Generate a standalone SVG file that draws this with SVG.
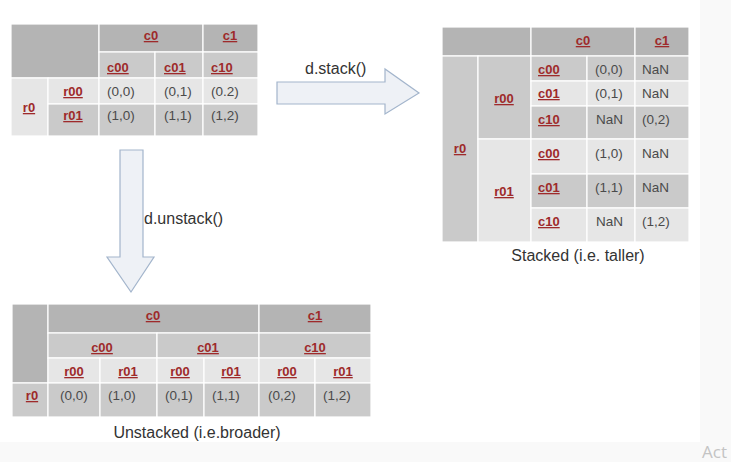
<svg xmlns="http://www.w3.org/2000/svg" width="731" height="462" viewBox="0 0 731 462">
<style>
.dk{fill:#b4b4b4;stroke:#fff;stroke-width:1.2}
.md{fill:#cacaca;stroke:#fff;stroke-width:1.2}
.lt{fill:#e6e6e6;stroke:#fff;stroke-width:1.2}
.lb{font-family:"Liberation Sans",Arial,sans-serif;font-size:13px;font-weight:bold;fill:#9e2a2b;text-decoration:underline}
.c{text-anchor:middle}
.v{font-family:"Liberation Sans",Arial,sans-serif;font-size:13.5px;fill:#4a4a4a}
.cap{font-family:"Liberation Sans",Arial,sans-serif;font-size:16px;fill:#333}
.arr{fill:#eef1f6;stroke:#a3b5cc;stroke-width:1.2}
</style>
<rect x="0" y="0" width="731" height="462" fill="#f9f9f9"/>
<rect x="0" y="0" width="700" height="442" fill="#ffffff"/>

<g id="table-original">
<rect class="dk" x="11" y="24" width="88" height="54"/>
<rect class="dk" x="99" y="24" width="104" height="28"/>
<rect class="dk" x="203" y="24" width="55" height="28"/>
<rect class="md" x="99" y="52" width="56" height="26"/>
<rect class="md" x="155" y="52" width="48" height="26"/>
<rect class="md" x="203" y="52" width="55" height="26"/>
<rect class="lt" x="11" y="78" width="37" height="58"/>
<rect class="lt" x="48" y="78" width="51" height="26"/>
<rect class="lt" x="99" y="78" width="56" height="26"/>
<rect class="lt" x="155" y="78" width="48" height="26"/>
<rect class="lt" x="203" y="78" width="55" height="26"/>
<rect class="md" x="48" y="104" width="51" height="32"/>
<rect class="md" x="99" y="104" width="56" height="32"/>
<rect class="md" x="155" y="104" width="48" height="32"/>
<rect class="md" x="203" y="104" width="55" height="32"/>
<text class="lb c" x="151" y="40">c0</text>
<text class="lb c" x="230" y="40">c1</text>
<text class="lb" x="107" y="72">c00</text>
<text class="lb" x="164" y="72">c01</text>
<text class="lb" x="211" y="72">c10</text>
<text class="lb c" x="29" y="112">r0</text>
<text class="lb c" x="73" y="96">r00</text>
<text class="lb c" x="73" y="120">r01</text>
<text class="v" x="107" y="96">(0,0)</text>
<text class="v" x="164" y="96">(0,1)</text>
<text class="v" x="211" y="96">(0.2)</text>
<text class="v" x="107" y="120">(1,0)</text>
<text class="v" x="164" y="120">(1,1)</text>
<text class="v" x="211" y="120">(1,2)</text>
</g>

<g id="table-stacked">
<rect class="dk" x="442" y="27" width="89" height="29"/>
<rect class="dk" x="531" y="27" width="104" height="29"/>
<rect class="dk" x="635" y="27" width="54" height="29"/>
<rect class="md" x="442" y="56" width="36" height="186"/>
<rect class="md" x="478" y="56" width="53" height="83"/>
<rect class="md" x="531" y="56" width="56" height="25"/>
<rect class="md" x="587" y="56" width="48" height="25"/>
<rect class="md" x="635" y="56" width="54" height="25"/>
<rect class="lt" x="531" y="81" width="56" height="25"/>
<rect class="lt" x="587" y="81" width="48" height="25"/>
<rect class="lt" x="635" y="81" width="54" height="25"/>
<rect class="md" x="531" y="106" width="56" height="33"/>
<rect class="md" x="587" y="106" width="48" height="33"/>
<rect class="md" x="635" y="106" width="54" height="33"/>
<rect class="lt" x="478" y="139" width="53" height="103"/>
<rect class="lt" x="531" y="139" width="56" height="35"/>
<rect class="lt" x="587" y="139" width="48" height="35"/>
<rect class="lt" x="635" y="139" width="54" height="35"/>
<rect class="md" x="531" y="174" width="56" height="34"/>
<rect class="md" x="587" y="174" width="48" height="34"/>
<rect class="md" x="635" y="174" width="54" height="34"/>
<rect class="lt" x="531" y="208" width="56" height="34"/>
<rect class="lt" x="587" y="208" width="48" height="34"/>
<rect class="lt" x="635" y="208" width="54" height="34"/>
<text class="lb c" x="583" y="45">c0</text>
<text class="lb c" x="662" y="45">c1</text>
<text class="lb c" x="460" y="153">r0</text>
<text class="lb c" x="504" y="103">r00</text>
<text class="lb c" x="504" y="196">r01</text>
<text class="lb" x="538" y="74">c00</text>
<text class="lb" x="538" y="98">c01</text>
<text class="lb" x="538" y="124">c10</text>
<text class="lb" x="538" y="158">c00</text>
<text class="lb" x="538" y="192">c01</text>
<text class="lb" x="538" y="226">c10</text>
<text class="v" x="595" y="74">(0,0)</text>
<text class="v" x="595" y="98">(0,1)</text>
<text class="v" x="596" y="124">NaN</text>
<text class="v" x="595" y="158">(1,0)</text>
<text class="v" x="595" y="192">(1,1)</text>
<text class="v" x="596" y="226">NaN</text>
<text class="v" x="642" y="74">NaN</text>
<text class="v" x="642" y="98">NaN</text>
<text class="v" x="642" y="124">(0,2)</text>
<text class="v" x="642" y="158">NaN</text>
<text class="v" x="642" y="192">NaN</text>
<text class="v" x="642" y="226">(1,2)</text>
<text class="cap c" x="578" y="261">Stacked (i.e. taller)</text>
</g>

<g id="table-unstacked">
<rect class="dk" x="12" y="304" width="36" height="79"/>
<rect class="dk" x="48" y="304" width="211" height="29"/>
<rect class="dk" x="259" y="304" width="112" height="29"/>
<rect class="md" x="48" y="333" width="109" height="25"/>
<rect class="md" x="157" y="333" width="102" height="25"/>
<rect class="md" x="259" y="333" width="112" height="25"/>
<rect class="lt" x="48" y="358" width="52" height="25"/>
<rect class="lt" x="100" y="358" width="57" height="25"/>
<rect class="lt" x="157" y="358" width="47" height="25"/>
<rect class="lt" x="204" y="358" width="55" height="25"/>
<rect class="lt" x="259" y="358" width="56" height="25"/>
<rect class="lt" x="315" y="358" width="56" height="25"/>
<rect class="md" x="12" y="383" width="36" height="34"/>
<rect class="md" x="48" y="383" width="52" height="34"/>
<rect class="md" x="100" y="383" width="57" height="34"/>
<rect class="md" x="157" y="383" width="47" height="34"/>
<rect class="md" x="204" y="383" width="55" height="34"/>
<rect class="md" x="259" y="383" width="56" height="34"/>
<rect class="md" x="315" y="383" width="56" height="34"/>
<text class="lb c" x="153" y="320">c0</text>
<text class="lb c" x="315" y="320">c1</text>
<text class="lb c" x="102" y="352">c00</text>
<text class="lb c" x="208" y="352">c01</text>
<text class="lb c" x="315" y="352">c10</text>
<text class="lb c" x="74" y="376">r00</text>
<text class="lb c" x="128" y="376">r01</text>
<text class="lb c" x="180" y="376">r00</text>
<text class="lb c" x="231" y="376">r01</text>
<text class="lb c" x="287" y="376">r00</text>
<text class="lb c" x="343" y="376">r01</text>
<text class="lb c" x="32" y="400">r0</text>
<text class="v" x="60" y="400">(0,0)</text>
<text class="v" x="108" y="400">(1,0)</text>
<text class="v" x="165" y="400">(0,1)</text>
<text class="v" x="212" y="400">(1,1)</text>
<text class="v" x="268" y="400">(0,2)</text>
<text class="v" x="323" y="400">(1,2)</text>
<text class="cap c" x="197" y="438">Unstacked (i.e.broader)</text>
</g>

<g id="connectors">
<polygon class="arr" points="277,82 385,82 385,69 419,93 385,114 385,104 277,104"/>
<text class="cap" x="305" y="74">d.stack()</text>
<polygon class="arr" points="120,150 143,150 143,257 154,257 131,292 107,257 120,257"/>
<text class="cap" x="144" y="224">d.unstack()</text>
</g>

<text x="702" y="458" font-family="'Open Sans',sans-serif" font-size="17" fill="#c4c4c4">Act</text>
</svg>
